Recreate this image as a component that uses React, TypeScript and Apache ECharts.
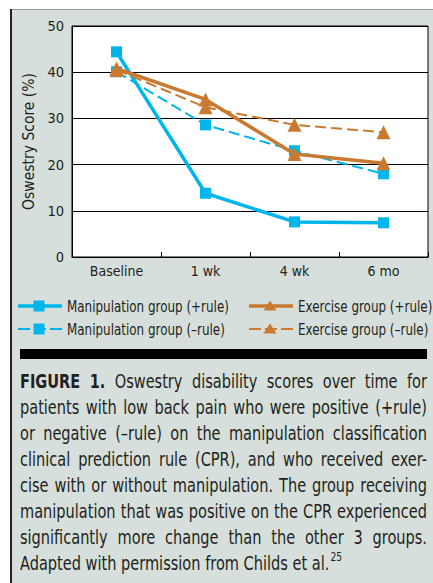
import React, { useEffect, useRef } from "react";
import * as echarts from "echarts";

const categories = ["Baseline", "1 wk", "4 wk", "6 mo"];
const manipulationPos = [44.4, 13.8, 7.6, 7.4];
const manipulationNeg = [40.1, 28.6, 23.0, 18.0];
const exercisePos = [40.8, 34.1, 22.3, 20.3];
const exerciseNeg = [40.5, 32.4, 28.6, 27.0];

const seriesNames = [
  "Manipulation group (+rule)",
  "Exercise group (+rule)",
  "Manipulation group (–rule)",
  "Exercise group (–rule)",
];

const yAxisTitle = "Oswestry Score (%)";

const captionLines = [
  "FIGURE 1. Oswestry disability scores over time for",
  "patients with low back pain who were positive (+rule)",
  "or negative (–rule) on the manipulation classification",
  "clinical prediction rule (CPR), and who received exer-",
  "cise with or without manipulation. The group receiving",
  "manipulation that was positive on the CPR experienced",
  "significantly more change than the other 3 groups.",
  "Adapted with permission from Childs et al.",
];
const captionBoldWords = 2;
const captionSuperscript = "25";

const FONT = '"DejaVu Sans Condensed", "DejaVu Sans", sans-serif';
const CYAN = "#00b5ec";
const ORANGE = "#c97a30";
const TEXT = "#231f20";
const BG = "#d6dfdb";

let measureCtx: CanvasRenderingContext2D | null = null;
function measure(t: string, size: number, bold: boolean) {
  if (!measureCtx) measureCtx = document.createElement("canvas").getContext("2d")!;
  measureCtx.font = `${bold ? "bold " : ""}${size}px ${FONT}`;
  return measureCtx.measureText(t).width;
}

function buildCaption(): any[] {
  const size = 19;
  const left = 20;
  const right = 427;
  const firstY = 381.5;
  const step = 26;
  const bodyLines = captionLines.slice(0, captionLines.length - 1);
  const natural = bodyLines.map((line, li) =>
    li === 0
      ? measure("FIGURE 1.", size, true) + measure(" " + line.split(" ").slice(captionBoldWords).join(" "), size, false)
      : measure(line, size, false)
  );
  const sx = Math.min(1, (right - left - 3) / Math.max(...natural));
  const els: any[] = [];
  captionLines.forEach((line, li) => {
    const words = line.split(" ");
    const bolds = words.map((_, wi) => li === 0 && wi < captionBoldWords);
    const widths = words.map((w, wi) => measure(w, size, bolds[wi]) * sx);
    const total = widths.reduce((a, b) => a + b, 0);
    const last = li === captionLines.length - 1;
    const gap = last ? measure(" ", size, false) * sx : (right - left - total) / (words.length - 1);
    let x = left;
    const y = firstY + li * step;
    words.forEach((w, wi) => {
      els.push({
        type: "text",
        x,
        y,
        scaleX: sx,
        style: {
          text: w,
          fontSize: size,
          fontFamily: FONT,
          fontWeight: bolds[wi] ? "bold" : "normal",
          fill: TEXT,
          textAlign: "left",
          textVerticalAlign: "middle",
        },
      });
      x += widths[wi] + gap;
    });
    if (last) {
      els.push({
        type: "text",
        x: x - gap + 1,
        y: y - 6,
        scaleX: sx,
        style: {
          text: captionSuperscript,
          fontSize: 12,
          fontFamily: FONT,
          fill: TEXT,
          textAlign: "left",
          textVerticalAlign: "middle",
        },
      });
    }
  });
  return els;
}

function buildLegend(): any[] {
  const pos = [
    { x: 18, y: 306 },
    { x: 249, y: 306 },
    { x: 18, y: 329 },
    { x: 249, y: 329 },
  ];
  const colors = [CYAN, ORANGE, CYAN, ORANGE];
  const dashed = [false, false, true, true];
  const tri = [false, true, false, true];
  const size = 16.5;
  const sx = 162 / measure(seriesNames[0], size, false);
  const els: any[] = [];
  seriesNames.forEach((name, i) => {
    const { x, y } = pos[i];
    els.push({
      type: "line",
      shape: { x1: x, y1: y, x2: x + 44, y2: y },
      style: {
        stroke: colors[i],
        lineWidth: dashed[i] ? 2.2 : 3.5,
        lineDash: dashed[i] ? [12, 4] : null,
      },
    });
    const cx = x + 21;
    if (tri[i]) {
      els.push({
        type: "polygon",
        shape: { points: [[cx, y - 5.5], [cx + 6.5, y + 4.5], [cx - 6.5, y + 4.5]] },
        style: { fill: colors[i] },
      });
    } else {
      els.push({
        type: "rect",
        shape: { x: cx - 5.5, y: y - 5.5, width: 11, height: 11 },
        style: { fill: colors[i] },
      });
    }
    els.push({
      type: "text",
      x: x + 49,
      y,
      scaleX: sx,
      style: {
        text: name,
        fontSize: size,
        fontFamily: FONT,
        fill: TEXT,
        textAlign: "left",
        textVerticalAlign: "middle",
      },
    });
  });
  return els;
}

export default function App() {
  const ref = useRef<HTMLDivElement>(null);
  useEffect(() => {
    document.body.style.margin = "0";
    const chart = echarts.init(ref.current!, null, { renderer: "svg" });
    const option: any = {
      animation: false,
      backgroundColor: "#ffffff",
      textStyle: { fontFamily: FONT, color: TEXT },
      graphic: [
        {
          type: "rect",
          z: -10,
          shape: { x: 10, y: 9, width: 440, height: 600 },
          style: { fill: BG },
        },
        {
          type: "line",
          z: -9,
          shape: { x1: 10, y1: 9.5, x2: 433, y2: 9.5 },
          style: { stroke: "#9a9a9a", lineWidth: 1 },
        },
        {
          type: "line",
          z: -9,
          shape: { x1: 11, y1: 9, x2: 11, y2: 583 },
          style: { stroke: "#222222", lineWidth: 2 },
        },
        {
          type: "rect",
          shape: { x: 20, y: 349, width: 407, height: 10 },
          style: { fill: "#000000" },
        },
        ...buildLegend(),
        ...buildCaption(),
      ],
      grid: {
        left: 72,
        top: 26,
        width: 356,
        height: 231,
        show: true,
        backgroundColor: "#ffffff",
        borderColor: "#000000",
        borderWidth: 1,
      },
      xAxis: {
        type: "category",
        data: categories,
        boundaryGap: true,
        axisLine: { lineStyle: { color: "#000", width: 1 } },
        axisTick: { show: true, inside: true, length: 5, lineStyle: { color: "#000" } },
        axisLabel: { fontSize: 14, color: TEXT, margin: 7, fontFamily: FONT },
      },
      yAxis: {
        type: "value",
        min: 0,
        max: 50,
        interval: 10,
        name: yAxisTitle,
        nameLocation: "middle",
        nameRotate: 90,
        nameGap: 35,
        nameTextStyle: { fontSize: 15.5, color: TEXT, fontFamily: FONT },
        axisLine: { show: true, lineStyle: { color: "#000", width: 1 } },
        axisTick: { show: false },
        splitLine: { lineStyle: { color: "#000", width: 1 } },
        axisLabel: { fontSize: 14.5, color: TEXT, margin: 8, fontFamily: FONT },
      },
      series: [
        {
          name: seriesNames[2],
          type: "line",
          data: manipulationNeg,
          symbol: "rect",
          symbolSize: 11,
          lineStyle: { color: CYAN, width: 2, type: [11, 5] },
          itemStyle: { color: CYAN },
          z: 2,
        },
        {
          name: seriesNames[0],
          type: "line",
          data: manipulationPos,
          symbol: "rect",
          symbolSize: 11,
          lineStyle: { color: CYAN, width: 3.5 },
          itemStyle: { color: CYAN },
          z: 3,
        },
        {
          name: seriesNames[3],
          type: "line",
          data: exerciseNeg,
          symbol: "triangle",
          symbolSize: 14,
          lineStyle: { color: ORANGE, width: 2, type: [11, 5] },
          itemStyle: { color: ORANGE },
          z: 4,
        },
        {
          name: seriesNames[1],
          type: "line",
          data: exercisePos,
          symbol: "triangle",
          symbolSize: 14,
          lineStyle: { color: ORANGE, width: 3.5 },
          itemStyle: { color: ORANGE },
          z: 5,
        },
      ],
    };
    chart.setOption(option);
    return () => chart.dispose();
  }, []);
  return (
    <div
      ref={ref}
      style={{ position: "absolute", left: 0, top: 0, width: 433, height: 583 }}
    />
  );
}
